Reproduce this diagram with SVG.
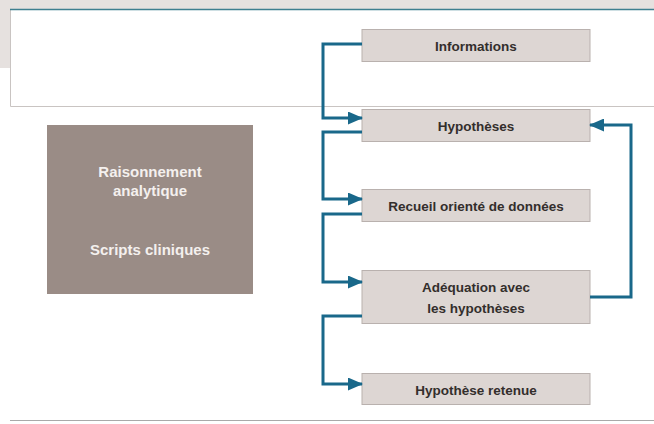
<svg xmlns="http://www.w3.org/2000/svg" width="654" height="424" viewBox="0 0 654 424">
<style>
.node rect{fill:#ddd6d3;stroke:#b9b1ae;stroke-width:1}
.node text{font-family:"Liberation Sans",Arial,sans-serif;font-weight:bold;font-size:13.5px;fill:#332e2c;text-anchor:middle}
.side text{font-family:"Liberation Sans",Arial,sans-serif;font-weight:bold;font-size:15px;fill:#f4f0ee;text-anchor:middle}
.conn path{fill:none;stroke:#19688a;stroke-width:3}
</style>
<defs>
<marker id="ah" markerWidth="15" markerHeight="13" refX="14" refY="6.5" orient="auto" markerUnits="userSpaceOnUse">
<path d="M0,0 L15,6.5 L0,13 Z" fill="#19688a"/>
</marker>
</defs>
<rect x="0" y="0" width="654" height="424" fill="#ffffff"/>
<rect x="0" y="0" width="654" height="9" fill="#e6e1df"/>
<rect x="0" y="9" width="10" height="59" fill="#e6e1df"/>
<path d="M10.5,10 V106.5 H654" fill="none" stroke="#c9c4c2" stroke-width="1"/>
<line x1="10" y1="9.5" x2="654" y2="9.5" stroke="#3f7f8f" stroke-width="1.5"/>
<line x1="10" y1="420.5" x2="654" y2="420.5" stroke="#a9a9a9" stroke-width="1"/>

<g id="side" class="side">
<rect x="47" y="125" width="206" height="169" fill="#9a8c86"/>
<text x="150" y="177">Raisonnement</text>
<text x="150" y="196">analytique</text>
<text x="150" y="255">Scripts cliniques</text>
</g>

<g id="informations" class="node">
<rect x="362" y="29.5" width="228" height="32"/>
<text x="476" y="50.5">Informations</text>
</g>
<g id="hypotheses" class="node">
<rect x="362" y="109.5" width="228" height="32"/>
<text x="476" y="130.5">Hypothèses</text>
</g>
<g id="recueil" class="node">
<rect x="362" y="189.5" width="228" height="32"/>
<text x="476" y="210.5">Recueil orienté de données</text>
</g>
<g id="adequation" class="node">
<rect x="362" y="270.5" width="228" height="53"/>
<text x="476" y="292">Adéquation avec</text>
<text x="476" y="313">les hypothèses</text>
</g>
<g id="retenue" class="node">
<rect x="362" y="373.5" width="228" height="31"/>
<text x="476" y="394.5">Hypothèse retenue</text>
</g>

<g id="connectors" class="conn">
<path d="M362,44 H323 V118 H362" marker-end="url(#ah)"/>
<path d="M362,132 H323 V199 H362" marker-end="url(#ah)"/>
<path d="M362,214 H323 V282 H362" marker-end="url(#ah)"/>
<path d="M362,316 H323 V384 H362" marker-end="url(#ah)"/>
<path d="M590,297 H631 V125 H590" marker-end="url(#ah)"/>
</g>
</svg>
